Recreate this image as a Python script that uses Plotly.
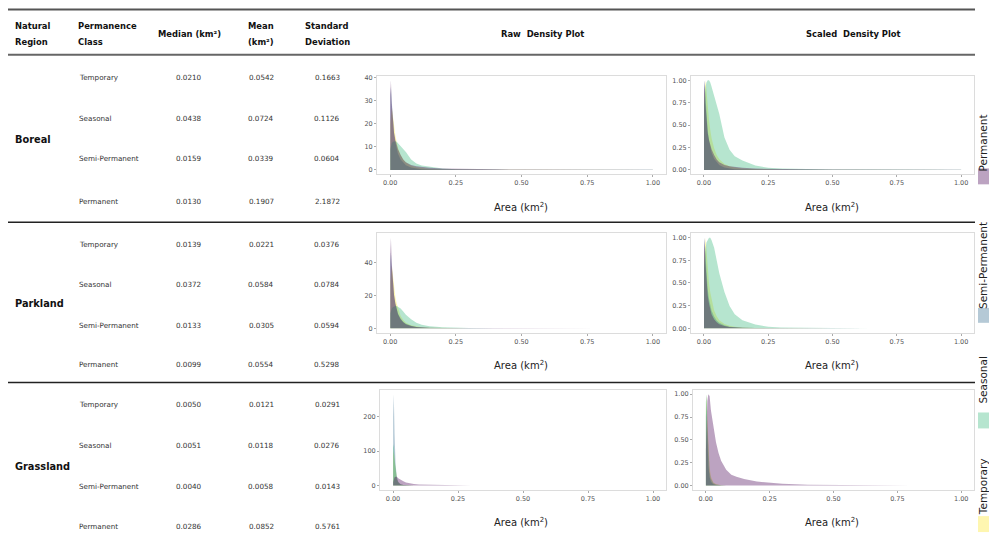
import plotly.graph_objects as go

OFF = 8            # page body margin of the browser
W, H = 997 - 2 * OFF, 541 - OFF

# ---------------- data ----------------
REGIONS = ["Boreal", "Parkland", "Grassland"]
CLASSES = ["Temporary", "Seasonal", "Semi-Permanent", "Permanent"]

BOREAL_MEDIAN = ["0.0210", "0.0438", "0.0159", "0.0130"]
BOREAL_MEAN = ["0.0542", "0.0724", "0.0339", "0.1907"]
BOREAL_SD = ["0.1663", "0.1126", "0.0604", "2.1872"]
PARKLAND_MEDIAN = ["0.0139", "0.0372", "0.0133", "0.0099"]
PARKLAND_MEAN = ["0.0221", "0.0584", "0.0305", "0.0554"]
PARKLAND_SD = ["0.0376", "0.0784", "0.0594", "0.5298"]
GRASSLAND_MEDIAN = ["0.0050", "0.0051", "0.0040", "0.0286"]
GRASSLAND_MEAN = ["0.0121", "0.0118", "0.0058", "0.0852"]
GRASSLAND_SD = ["0.0291", "0.0276", "0.0143", "0.5761"]

X_TICKS = [0, 0.25, 0.5, 0.75, 1.0]
X_TICK_LABELS = ["0.00", "0.25", "0.50", "0.75", "1.00"]
SCALED_TICKS = [0, 0.25, 0.5, 0.75, 1.0]
SCALED_TICK_LABELS = ["0.00", "0.25", "0.50", "0.75", "1.00"]
BOREAL_RAW_TICKS = [0, 10, 20, 30, 40]
PARKLAND_RAW_TICKS = [0, 20, 40]
GRASSLAND_RAW_TICKS = [0, 100, 200]

# area (km2) grid of the density estimates
AREA_X = [0.0005, 0.003, 0.006, 0.01, 0.015, 0.02, 0.025, 0.03, 0.04, 0.05, 0.06, 0.08,
          0.1, 0.12, 0.15, 0.2, 0.25, 0.3, 0.4, 0.5, 0.65, 0.8, 1.0]

BOREAL_TEMPORARY = [20, 25, 27, 24, 19, 15, 12, 9.5, 6.5, 4.5, 3.2, 1.8, 1.1, 0.7, 0.4, 0.2,
                    0.1, 0.06, 0.03, 0.02, 0.01, 0.005, 0.003]
BOREAL_SEASONAL = [9, 10.5, 11.5, 12.2, 12.5, 12.5, 12.2, 11.6, 10.3, 9.0, 7.8, 4.5, 2.8, 1.9,
                   1.3, 0.6, 0.3, 0.2, 0.1, 0.07, 0.05, 0.03, 0.02]
BOREAL_SEMIPERM = [32, 36, 30, 22, 16, 12, 9, 7, 4.5, 3, 2, 1, 0.55, 0.3, 0.15, 0.06, 0.03,
                   0.02, 0.01, 0.005, 0.003, 0.002, 0.001]
BOREAL_PERMANENT = [33, 39, 29, 21, 16, 13, 11, 9, 6.5, 4.5, 3.3, 2.1, 1.6, 1.2, 0.9, 0.6,
                    0.45, 0.35, 0.25, 0.2, 0.15, 0.12, 0.1]

PARKLAND_TEMPORARY = [28, 35, 38, 33, 25, 19, 15, 12, 7.5, 5, 3.4, 1.8, 1.0, 0.6, 0.3, 0.12,
                      0.06, 0.03, 0.01, 0.005, 0.003, 0.002, 0.001]
PARKLAND_SEASONAL = [9, 10.5, 11.8, 12.8, 13.3, 13.5, 13.5, 13.1, 12.0, 10.2, 8.2, 5.4, 3.3,
                     2.1, 1.2, 0.55, 0.22, 0.1, 0.04, 0.02, 0.01, 0.005, 0.003]
PARKLAND_SEMIPERM = [40, 46, 38, 28, 20, 15, 11.5, 9, 6, 4, 2.8, 1.5, 0.8, 0.45, 0.2, 0.08,
                     0.04, 0.02, 0.01, 0.005, 0.003, 0.002, 0.001]
PARKLAND_PERMANENT = [45, 55, 40, 28, 20, 15, 11, 8.5, 5.5, 3.6, 2.5, 1.3, 0.8, 0.5, 0.3,
                      0.15, 0.1, 0.07, 0.05, 0.04, 0.03, 0.02, 0.015]

GRASSLAND_TEMPORARY = [85, 100, 75, 40, 20, 10, 6, 3.5, 1.8, 1.0, 0.5, 0.2, 0.1, 0.05, 0.025,
                       0.01, 0.005, 0.003, 0.002, 0.001, 0.001, 0.001, 0.001]
GRASSLAND_SEASONAL = [110, 120, 80, 40, 18, 9, 5, 3, 1.5, 0.8, 0.4, 0.15, 0.07, 0.04, 0.02,
                      0.01, 0.005, 0.003, 0.002, 0.001, 0.001, 0.001, 0.001]
GRASSLAND_SEMIPERM = [200, 265, 150, 60, 25, 12, 7, 4, 2, 1, 0.5, 0.2, 0.1, 0.05, 0.02, 0.01,
                      0.005, 0.003, 0.002, 0.001, 0.001, 0.001, 0.001]
GRASSLAND_PERMANENT = [10, 18, 24, 26, 25.5, 21.5, 18.8, 16.2, 12.3, 9.3, 7.1, 4.5, 3.1, 2.5,
                       1.9, 1.15, 0.75, 0.5, 0.25, 0.15, 0.08, 0.05, 0.03]

# ---------------- styling ----------------
FONT = "DejaVu Sans"
COLORS = {"Temporary": (253, 231, 37), "Seasonal": (53, 183, 121),
          "Semi-Permanent": (49, 104, 142), "Permanent": (68, 1, 84)}
ALPHA = 0.36
DRAW_ORDER = ["Temporary", "Semi-Permanent", "Seasonal", "Permanent"]


def rgba(c, a=ALPHA):
    return f"rgba({c[0]},{c[1]},{c[2]},{a})"


def px(x):
    return (x - OFF) / W


def py(y):
    return 1 - (y - OFF) / H


DENSITY = {
    "Boreal": dict(zip(CLASSES, [BOREAL_TEMPORARY, BOREAL_SEASONAL, BOREAL_SEMIPERM, BOREAL_PERMANENT])),
    "Parkland": dict(zip(CLASSES, [PARKLAND_TEMPORARY, PARKLAND_SEASONAL, PARKLAND_SEMIPERM, PARKLAND_PERMANENT])),
    "Grassland": dict(zip(CLASSES, [GRASSLAND_TEMPORARY, GRASSLAND_SEASONAL, GRASSLAND_SEMIPERM, GRASSLAND_PERMANENT])),
}
STATS = {
    "Boreal": (BOREAL_MEDIAN, BOREAL_MEAN, BOREAL_SD),
    "Parkland": (PARKLAND_MEDIAN, PARKLAND_MEAN, PARKLAND_SD),
    "Grassland": (GRASSLAND_MEDIAN, GRASSLAND_MEAN, GRASSLAND_SD),
}
RAW_TICKS = {"Boreal": BOREAL_RAW_TICKS, "Parkland": PARKLAND_RAW_TICKS, "Grassland": GRASSLAND_RAW_TICKS}

# layout geometry (screen pixels)
ROW_Y = {"Boreal": [76, 117, 157, 200], "Parkland": [243, 284, 325, 364],
         "Grassland": [404, 445, 486, 526]}
REGION_Y = {"Boreal": 138, "Parkland": 303, "Grassland": 466}
PANEL_Y = {"Boreal": (74, 173), "Parkland": (232, 332), "Grassland": (389, 490)}
RAW_X = {"Boreal": (377, 666), "Parkland": (377, 666), "Grassland": (380, 666)}
SCALED_X = {"Boreal": (691, 974), "Parkland": (691, 974), "Grassland": (693, 974)}
TITLE_Y = {"Boreal": 206, "Parkland": 364, "Grassland": 522}

fig = go.Figure()
annotations = []
shapes = []


def text(x, y, s, size, anchor="left", color="#222", bold=False, angle=0):
    annotations.append(dict(
        x=px(x), y=py(y), xref="paper", yref="paper", showarrow=False,
        text=f"<b>{s}</b>" if bold else s, xanchor=anchor, yanchor="middle",
        textangle=angle, font=dict(family=FONT, size=size, color=color)))


# header
HS = 8.4
text(13, 24, "Natural", HS, bold=True, color="#111")
text(13, 40, "Region", HS, bold=True, color="#111")
text(76, 24, "Permanence", HS, bold=True, color="#111")
text(76, 40, "Class", HS, bold=True, color="#111")
text(189, 32, "Median (km²)", HS, "center", bold=True, color="#111")
text(261, 24, "Mean", HS, "center", bold=True, color="#111")
text(261, 40, "(km²)", HS, "center", bold=True, color="#111")
text(326, 24, "Standard", HS, "center", bold=True, color="#111")
text(327, 40, "Deviation", HS, "center", bold=True, color="#111")
text(542, 32, "Raw\u00a0 Density Plot", HS, "center", bold=True, color="#111")
text(853, 32, "Scaled\u00a0 Density Plot", HS, "center", bold=True, color="#111")

# rules
for y, w, c in [(7.5, 2, "#555"), (53, 2, "#666"), (221, 1.5, "#222"), (382, 1.5, "#222")]:
    shapes.append(dict(type="line", xref="paper", yref="paper", x0=px(7), x1=px(975),
                       y0=py(y), y1=py(y), line=dict(color=c, width=w)))

BS = 7.2
for r in REGIONS:
    text(13, REGION_Y[r], r, 9.8, bold=True, color="#111")
    med, mean, sd = STATS[r]
    for i, cl in enumerate(CLASSES):
        y = ROW_Y[r][i]
        text(77, y, cl, BS, color="#333")
        text(188.5, y, med[i], BS, "center", color="#333")
        text(261, y, mean[i], BS, "center", color="#333")
        text(327, y, sd[i], BS, "center", color="#333")

axis_common = dict(showgrid=False, zeroline=False, showline=True, mirror=True,
                   linecolor="#dcdcdc", linewidth=1, ticks="outside", ticklen=2,
                   tickcolor="#aaaaaa", tickwidth=0.8,
                   tickfont=dict(family=FONT, size=6.5, color="#555"))

layout_axes = {}
n = 0
for r in REGIONS:
    dens = DENSITY[r]
    ymax = max(max(v) for v in dens.values())
    y0, y1 = PANEL_Y[r]
    for kind in ["raw", "scaled"]:
        n += 1
        xa = "x" if n == 1 else f"x{n}"
        ya = "y" if n == 1 else f"y{n}"
        xd = RAW_X[r] if kind == "raw" else SCALED_X[r]
        for cl in DRAW_ORDER:
            vals = dens[cl]
            if kind == "scaled":
                m = max(vals)
                vals = [v / m for v in vals]
            fig.add_trace(go.Scatter(
                x=AREA_X, y=vals, mode="lines", line=dict(width=0),
                fill="tozeroy", fillcolor=rgba(COLORS[cl]), name=cl,
                showlegend=False, hoverinfo="skip", xaxis=xa, yaxis=ya))
        if kind == "raw":
            yr = [-0.05 * ymax, 1.05 * ymax]
            yt, ytl = RAW_TICKS[r], [str(t) for t in RAW_TICKS[r]]
        else:
            yr = [-0.05, 1.05]
            yt, ytl = SCALED_TICKS, SCALED_TICK_LABELS
        layout_axes["xaxis" if n == 1 else f"xaxis{n}"] = dict(
            axis_common, domain=[px(xd[0]), px(xd[1])], range=[-0.05, 1.05],
            tickvals=X_TICKS, ticktext=X_TICK_LABELS, anchor=ya)
        layout_axes["yaxis" if n == 1 else f"yaxis{n}"] = dict(
            axis_common, domain=[py(y1), py(y0)], range=yr,
            tickvals=yt, ticktext=ytl, anchor=xa)
        cx = 521 if kind == "raw" else 832
        text(cx, TITLE_Y[r], "Area (km<sup>2</sup>)", 10, "center", color="#222")

# legend (rotated, at the right edge)
LEGEND = [("Permanent", 142, (167, 183)), ("Semi-Permanent", 265, (307, 322)),
          ("Seasonal", 380, (412, 428)), ("Temporary", 487, (516, 532))]
for name, ty, (s0, s1) in LEGEND:
    text(983, ty, name, 10.5, "center", color="#222", angle=-90)
    shapes.append(dict(type="rect", xref="paper", yref="paper",
                       x0=px(978), x1=px(989), y0=py(s1), y1=py(s0),
                       fillcolor=rgba(COLORS[name]), line=dict(width=0)))

fig.update_layout(
    width=W, height=H, margin=dict(l=0, r=0, t=0, b=0),
    paper_bgcolor="white", plot_bgcolor="white", showlegend=False,
    annotations=annotations, shapes=shapes, **layout_axes)

fig.write_html("out.html")
